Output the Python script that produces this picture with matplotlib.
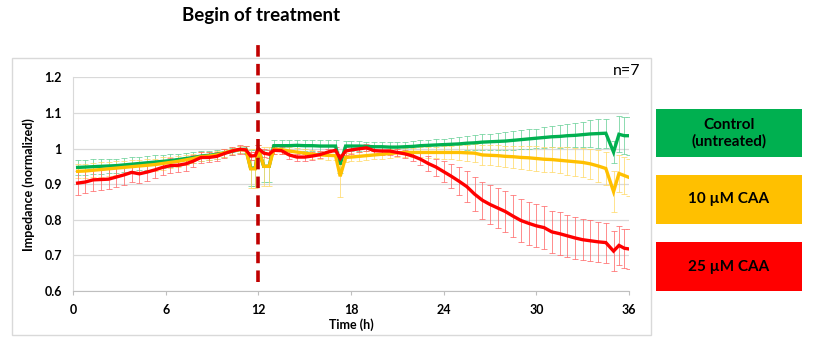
import matplotlib
matplotlib.use("Agg")
import matplotlib.pyplot as plt
from matplotlib.patches import Rectangle

times = [0.3, 0.8, 1.3, 1.8, 2.3, 2.8, 3.3, 3.8, 4.3, 4.8, 5.3, 5.8, 6.3, 6.8, 7.3, 7.8,
         8.3, 8.8, 9.3, 9.8, 10.3, 10.8, 11.2, 11.5, 11.8, 12.0, 12.35, 12.7, 13.0,
         13.5, 14.0, 14.5, 15.0, 15.5, 16.0, 16.5, 17.0, 17.3, 17.65, 18.0, 18.5, 19.0,
         19.5, 20.0, 20.5, 21.0, 21.5, 22.0, 22.5, 23.0, 23.5, 24.0, 24.5, 25.0, 25.5,
         26.0, 26.5, 27.0, 27.5, 28.0, 28.5, 29.0, 29.5, 30.0, 30.5, 31.0, 31.5, 32.0,
         32.5, 33.0, 33.5, 34.0, 34.5, 35.0, 35.35, 35.7, 36.0]

control = [0.947, 0.948, 0.949, 0.950, 0.951, 0.952, 0.954, 0.956, 0.958, 0.960, 0.962,
           0.964, 0.966, 0.969, 0.972, 0.975, 0.979, 0.981, 0.984, 0.988, 0.992, 0.997,
           0.998, 0.945, 0.945, 1.000, 0.950, 0.950, 1.008, 1.008, 1.008, 1.009, 1.008,
           1.008, 1.007, 1.007, 1.007, 0.955, 1.007, 1.007, 1.007, 1.006, 1.005, 1.005,
           1.004, 1.004, 1.005, 1.006, 1.008, 1.009, 1.010, 1.011, 1.012, 1.013, 1.015,
           1.016, 1.018, 1.019, 1.020, 1.021, 1.023, 1.025, 1.027, 1.029, 1.031, 1.033,
           1.034, 1.036, 1.037, 1.039, 1.041, 1.042, 1.043, 0.990, 1.040, 1.036, 1.036]

caa10 = [0.936, 0.937, 0.939, 0.941, 0.943, 0.945, 0.947, 0.949, 0.951, 0.953, 0.955,
         0.958, 0.961, 0.964, 0.968, 0.972, 0.977, 0.979, 0.982, 0.988, 0.994, 0.997,
         0.996, 0.943, 0.943, 1.000, 0.950, 0.950, 0.998, 0.997, 0.993, 0.990, 0.987,
         0.984, 0.982, 0.981, 0.980, 0.922, 0.975, 0.976, 0.978, 0.980, 0.982, 0.984,
         0.986, 0.988, 0.989, 0.989, 0.989, 0.989, 0.989, 0.989, 0.989, 0.989, 0.988,
         0.987, 0.982, 0.981, 0.980, 0.978, 0.977, 0.975, 0.974, 0.972, 0.970, 0.969,
         0.967, 0.965, 0.963, 0.961, 0.957, 0.951, 0.944, 0.879, 0.930, 0.924, 0.919]

caa25 = [0.903, 0.906, 0.912, 0.913, 0.914, 0.920, 0.926, 0.933, 0.929, 0.934, 0.940,
         0.947, 0.952, 0.953, 0.957, 0.965, 0.975, 0.975, 0.978, 0.986, 0.993, 0.998,
         0.996, 0.979, 0.980, 1.000, 0.987, 0.984, 0.995, 0.994, 0.982, 0.976, 0.976,
         0.979, 0.983, 0.990, 0.995, 0.972, 0.993, 0.996, 0.999, 1.002, 0.994, 0.993,
         0.993, 0.989, 0.985, 0.979, 0.970, 0.958, 0.948, 0.935, 0.922, 0.908, 0.893,
         0.872, 0.855, 0.843, 0.833, 0.823, 0.810, 0.798, 0.790, 0.783, 0.778, 0.766,
         0.761, 0.755, 0.749, 0.744, 0.741, 0.738, 0.736, 0.712, 0.728, 0.720, 0.718]

control_err = [0.021, 0.021, 0.021, 0.021, 0.020, 0.020, 0.020, 0.020, 0.019, 0.019, 0.019,
               0.018, 0.018, 0.017, 0.016, 0.015, 0.014, 0.013, 0.012, 0.011, 0.010, 0.010,
               0.010, 0.050, 0.050, 0.010, 0.045, 0.045, 0.016, 0.016, 0.016, 0.016, 0.016,
               0.016, 0.016, 0.016, 0.016, 0.025, 0.013, 0.013, 0.013, 0.013, 0.013, 0.013,
               0.013, 0.013, 0.014, 0.014, 0.015, 0.015, 0.016, 0.017, 0.018, 0.019, 0.020,
               0.021, 0.022, 0.023, 0.024, 0.025, 0.026, 0.026, 0.027, 0.027, 0.029, 0.030,
               0.032, 0.033, 0.034, 0.036, 0.038, 0.040, 0.041, 0.032, 0.050, 0.052, 0.053]

caa10_err = [0.020, 0.020, 0.020, 0.020, 0.019, 0.019, 0.019, 0.018, 0.018, 0.018, 0.017,
             0.017, 0.016, 0.016, 0.015, 0.014, 0.013, 0.012, 0.012, 0.011, 0.010, 0.010,
             0.010, 0.055, 0.055, 0.010, 0.055, 0.055, 0.012, 0.012, 0.012, 0.012, 0.012,
             0.012, 0.012, 0.012, 0.012, 0.058, 0.012, 0.012, 0.012, 0.012, 0.012, 0.012,
             0.012, 0.012, 0.013, 0.013, 0.014, 0.015, 0.016, 0.017, 0.019, 0.021, 0.023,
             0.025, 0.027, 0.028, 0.029, 0.030, 0.031, 0.032, 0.033, 0.034, 0.035, 0.036,
             0.037, 0.038, 0.039, 0.041, 0.042, 0.044, 0.045, 0.057, 0.052, 0.053, 0.053]

caa25_err = [0.033, 0.032, 0.031, 0.030, 0.029, 0.028, 0.027, 0.026, 0.025, 0.024, 0.023,
             0.022, 0.021, 0.020, 0.019, 0.017, 0.015, 0.014, 0.013, 0.012, 0.012, 0.012,
             0.011, 0.011, 0.011, 0.010, 0.011, 0.011, 0.010, 0.010, 0.010, 0.010, 0.010,
             0.010, 0.010, 0.010, 0.010, 0.012, 0.010, 0.010, 0.010, 0.010, 0.010, 0.010,
             0.010, 0.011, 0.012, 0.014, 0.017, 0.020, 0.024, 0.029, 0.034, 0.039, 0.044,
             0.048, 0.052, 0.055, 0.057, 0.058, 0.059, 0.060, 0.060, 0.060, 0.060, 0.060,
             0.060, 0.059, 0.059, 0.058, 0.058, 0.057, 0.056, 0.056, 0.055, 0.055, 0.055]

series_labels = ["Control\n(untreated)", "10 µM CAA", "25 µM CAA"]
series_colors = ["#00B050", "#FFC000", "#FF0000"]
err_colors = ["#66D096", "#FFD966", "#FF6666"]
x_ticks = [0, 6, 12, 18, 24, 30, 36]
y_ticks = [0.6, 0.7, 0.8, 0.9, 1.0, 1.1, 1.2]
y_ticklabels = ["0.6", "0.7", "0.8", "0.9", "1", "1.1", "1.2"]
treatment_time = 12

plt.rcParams['font.family'] = ['Lato', 'DejaVu Sans']

W, H = 813, 345
fig = plt.figure(figsize=(W / 100, H / 100), dpi=100)

def fx(px):
    return px / W

def fy(py):
    return 1 - py / H

# outer chart frame
fig.patches.append(Rectangle((fx(12), fy(335)), fx(651) - fx(12), fy(58) - fy(335),
                             transform=fig.transFigure, fill=False,
                             edgecolor="#D9D9D9", linewidth=1.0, zorder=0))

ax = fig.add_axes([fx(73), fy(291), fx(629) - fx(73), fy(77.3) - fy(291)])
ax.set_facecolor("none")

all_vals = [control, caa10, caa25]
all_errs = [control_err, caa10_err, caa25_err]
for vals, errs, ec in zip(all_vals, all_errs, err_colors):
    ax.errorbar(times, vals, yerr=errs, fmt="none", ecolor=ec, elinewidth=0.7,
                capsize=2.0, capthick=0.7, alpha=0.75, zorder=2)
for i, (vals, c) in enumerate(zip(all_vals, series_colors)):
    ax.plot(times, vals, color=c, linewidth=2.4, solid_joinstyle="miter", zorder=3 + i)

ax.set_xlim(0, 36)
ax.set_ylim(0.6, 1.2)
ax.set_xticks(x_ticks)
ax.set_yticks(y_ticks)
ax.set_yticklabels(y_ticklabels)
ax.grid(axis="y", color="#D9D9D9", linewidth=0.9)
ax.set_axisbelow(True)
for s in ["top", "right"]:
    ax.spines[s].set_visible(False)
ax.spines["left"].set_color("#D9D9D9")
ax.spines["bottom"].set_color("#BFBFBF")
ax.tick_params(axis="y", length=0, pad=8, labelsize=9)
ax.tick_params(axis="x", length=3, color="#BFBFBF", pad=6, labelsize=9)
for lab in ax.get_xticklabels() + ax.get_yticklabels():
    lab.set_fontweight("bold")
ax.set_xlabel("Time (h)", fontsize=9, fontweight="bold", labelpad=2)
ax.set_ylabel("Impedance (normalized)", fontsize=9, fontweight="bold", labelpad=7)

# treatment line
ax.axvline(treatment_time, ymin=0.043, ymax=1.165, color="#C00000", linewidth=2.6,
           dashes=(3.2, 2.0), clip_on=False, zorder=6)
fig.text(fx(261), fy(16), "Begin of treatment", ha="center", va="center",
         fontsize=13.5, fontweight="bold")
fig.text(fx(640), fy(71), "n=7", ha="right", va="center", fontsize=11.5)

# legend boxes
boxes = [(109, 157), (175, 224), (242, 291)]
for (top, bot), lab, c in zip(boxes, series_labels, series_colors):
    fig.patches.append(Rectangle((fx(656), fy(bot)), fx(802) - fx(656), fy(top) - fy(bot),
                                 transform=fig.transFigure, facecolor=c,
                                 edgecolor="none", zorder=1))
    fig.text((fx(656) + fx(802)) / 2, (fy(top) + fy(bot)) / 2, lab, ha="center",
             va="center", fontsize=11, fontweight="bold", linespacing=1.2)

fig.savefig("out.png", dpi=100)
